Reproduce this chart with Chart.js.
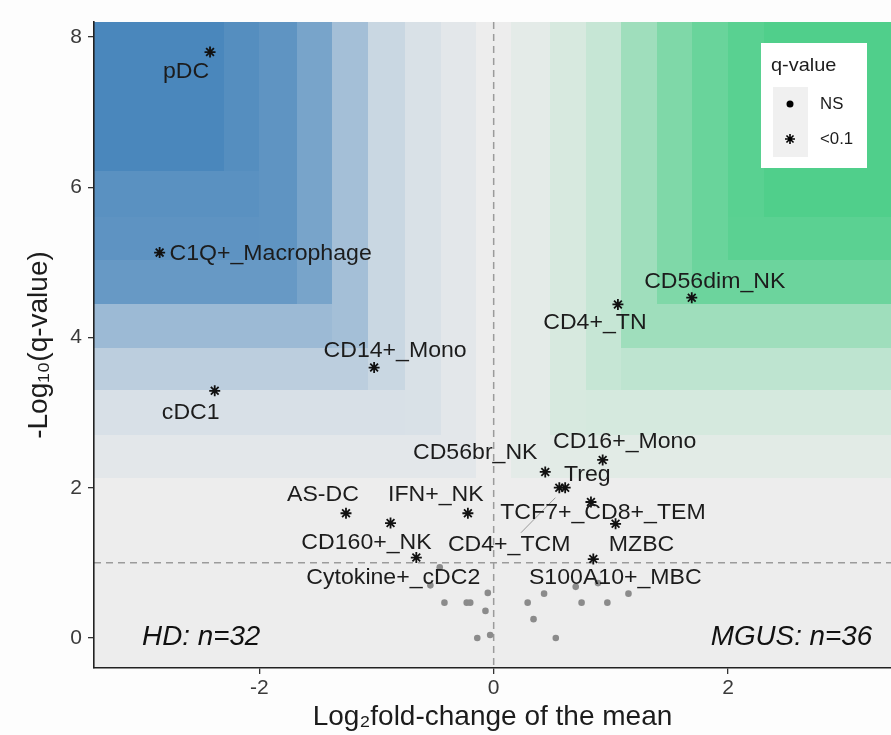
<!DOCTYPE html>
<html><head><meta charset="utf-8">
<script src="https://cdn.jsdelivr.net/npm/chart.js@4.4.1/dist/chart.umd.min.js"></script>
<style>html,body{margin:0;padding:0;background:#fdfdfd;}#wrap{width:891px;height:735px;}</style>
</head><body><div id="wrap"><canvas id="c" width="891" height="735"></canvas></div>
<script>
// ---- data ----
const sigNames = ['pDC','C1Q+_Macrophage','CD14+_Mono','cDC1','CD56dim_NK','CD4+_TN','CD16+_Mono','CD56br_NK','Treg','CD4+_TCM','TCF7+_CD8+_TEM','MZBC','S100A10+_MBC','IFN+_NK','AS-DC','CD160+_NK','Cytokine+_cDC2'];
const sigLog2FC = [-2.42,-2.85,-1.02,-2.38,1.69,1.06,0.93,0.44,0.56,0.61,0.83,1.04,0.85,-0.22,-1.26,-0.88,-0.66];
const sigNegLog10Q = [7.80,5.13,3.60,3.29,4.53,4.44,2.37,2.21,2.00,2.00,1.81,1.52,1.05,1.66,1.66,1.53,1.07];
const nsLog2FC = [-0.54,-0.46,-0.42,-0.23,-0.20,-0.07,-0.05,-0.14,-0.03,0.29,0.34,0.43,0.53,0.70,0.89,0.75,0.97,1.15];
const nsNegLog10Q = [0.70,0.94,0.47,0.47,0.47,0.36,0.60,0.00,0.04,0.47,0.25,0.59,0.00,0.68,0.73,0.47,0.47,0.59];
const xTickValues = [-2,0,2];
const yTickValues = [0,2,4,6,8];
const qThreshold = 1;      // -log10(0.1)
const groupLabels = ['HD: n=32','MGUS: n=36'];
const groupLabelX = [-3.0, 3.23];
const legendTitle = 'q-value';
const legendLabels = ['NS','<0.1'];
const xTitle = 'Log\u2082fold-change of the mean';
const yTitle = '-Log\u2081\u2080(q-value)';
// background tile bands
const bgBreaksY = [2.13,2.70,3.30,3.86,4.45,5.03,5.60,6.22];
const bgBreaksXNeg = [-0.15,-0.45,-0.76,-1.07,-1.38,-1.68,-2.00,-2.30];
const bgBreaksXPos = [0.15,0.48,0.79,1.09,1.39,1.69,2.00,2.31];
const blueWx = [0.01,0.06,0.12,0.22,0.45,0.72,0.87,0.93,1.0];
const blueWy = [0,0.06,0.13,0.30,0.50,0.82,0.88,0.90,1.0];
const greenWx = [0.01,0.055,0.14,0.25,0.50,0.70,0.84,0.94,1.0];
const greenWy = [0,0.07,0.15,0.30,0.50,0.82,0.93,1.0,1.0];

// ---- styles ----
const FONT = "'Liberation Sans', Arial, Helvetica, sans-serif";
const baseGrey = [237,237,237];
const blueDark = [74,135,188];
const greenDark = [80,207,139];
const labelOffsets = {
 'pDC':[-24,20],'C1Q+_Macrophage':[111,1],'CD14+_Mono':[21,-17],'cDC1':[-24,22],
 'CD56dim_NK':[23,-16],'CD4+_TN':[-23,19],'CD16+_Mono':[22,-18],'CD56br_NK':[-70,-19],
 'Treg':[28,-13],'CD4+_TCM':[-56,57],'TCF7+_CD8+_TEM':[12,11],'MZBC':[26,21],
 'S100A10+_MBC':[22,19],'IFN+_NK':[-32,-18],'AS-DC':[-23,-18],'CD160+_NK':[-24,20],'Cytokine+_cDC2':[-23,20]
};
const segmentLabels = ['CD4+_TCM'];

function mix(t, dark){
  return 'rgb(' + [0,1,2].map(i=>Math.round(baseGrey[i]+(dark[i]-baseGrey[i])*t)).join(',') + ')';
}
function stretchText(ctx, text, x, y, align, sx){
  ctx.save(); ctx.translate(x,y); ctx.scale(sx,1); ctx.textAlign=align; ctx.fillText(text,0,0); ctx.restore();
}

const bgPlugin = {
  id:'bg',
  beforeDraw(chart){
    const {ctx, chartArea:a, scales:{x,y}} = chart;
    ctx.save();
    ctx.beginPath(); ctx.rect(a.left,a.top,a.right-a.left,a.bottom-a.top); ctx.clip();
    ctx.fillStyle = mix(0,blueDark); ctx.fillRect(a.left,a.top,a.right-a.left,a.bottom-a.top);
    const yEdges = [a.bottom].concat(bgBreaksY.map(v=>Math.round(y.getPixelForValue(v)))).concat([a.top]);
    const negEdges = [Math.round(x.getPixelForValue(0))].concat(bgBreaksXNeg.map(v=>Math.round(x.getPixelForValue(v)))).concat([a.left]);
    const posEdges = [Math.round(x.getPixelForValue(0))].concat(bgBreaksXPos.map(v=>Math.round(x.getPixelForValue(v)))).concat([a.right]);
    for (let k=1;k<=8;k++){
      for (let j=1;j<=8;j++){
        const yb = yEdges[j], yt = yEdges[j+1];
        let t = Math.min(blueWx[k], blueWy[j]);
        ctx.fillStyle = mix(t, blueDark);
        ctx.fillRect(negEdges[k+1], yt, negEdges[k]-negEdges[k+1], yb-yt);
        t = Math.min(greenWx[k], greenWy[j]);
        ctx.fillStyle = mix(t, greenDark);
        ctx.fillRect(posEdges[k], yt, posEdges[k+1]-posEdges[k], yb-yt);
      }
    }
    ctx.strokeStyle = '#9b9b9b'; ctx.lineWidth = 1.5; ctx.setLineDash([7,5]);
    const x0 = x.getPixelForValue(0), y1 = y.getPixelForValue(qThreshold);
    ctx.beginPath(); ctx.moveTo(x0,a.top); ctx.lineTo(x0,a.bottom); ctx.stroke();
    ctx.beginPath(); ctx.moveTo(a.left,y1); ctx.lineTo(a.right,y1); ctx.stroke();
    ctx.restore();
  },
  afterDatasetsDraw(chart){
    const {ctx, chartArea:a, scales:{x,y}} = chart;
    ctx.save();
    ctx.font = '22px ' + FONT; ctx.fillStyle = '#1c1c1c'; ctx.textBaseline = 'middle';
    sigNames.forEach((n,i)=>{
      const px = x.getPixelForValue(sigLog2FC[i]), py = y.getPixelForValue(sigNegLog10Q[i]);
      const o = labelOffsets[n] || [0,-18];
      if (segmentLabels.includes(n)){
        const dx=o[0], dy=o[1], L=Math.hypot(dx,dy);
        const ux=dx/L, uy=dy/L;
        const sx=px+ux*14, sy=py+uy*14;
        const tEnd=(dy-12)/dy;
        ctx.save(); ctx.strokeStyle='#9a9a9a'; ctx.lineWidth=1;
        ctx.beginPath(); ctx.moveTo(sx,sy); ctx.lineTo(px+dx*tEnd, py+dy*tEnd); ctx.stroke(); ctx.restore();
      }
      stretchText(ctx, n, px+o[0], py+o[1], 'center', 1.05);
    });
    ctx.font = 'italic 27px ' + FONT; ctx.fillStyle = '#111';
    const gy = y.getPixelForValue(0);
    stretchText(ctx, groupLabels[0], x.getPixelForValue(groupLabelX[0]), gy, 'left', 1.03);
    stretchText(ctx, groupLabels[1], x.getPixelForValue(groupLabelX[1]), gy, 'right', 1.03);
    const lx=761, ly=43, lw=106, lh=125;
    ctx.fillStyle='#ffffff'; ctx.fillRect(lx,ly,lw,lh);
    ctx.fillStyle='#1c1c1c'; ctx.font='19px '+FONT;
    stretchText(ctx, legendTitle, lx+10, ly+23, 'left', 1.05);
    ctx.fillStyle='#f0f0f0'; ctx.fillRect(lx+12, ly+44, 35, 70);
    ctx.fillStyle='#000'; ctx.beginPath(); ctx.arc(lx+29, ly+61, 3.5, 0, Math.PI*2); ctx.fill();
    ctx.strokeStyle='#000'; ctx.lineWidth=1.6;
    const sx=lx+29, sy=ly+96, r=5;
    ctx.beginPath();
    ctx.moveTo(sx-r,sy); ctx.lineTo(sx+r,sy); ctx.moveTo(sx,sy-r); ctx.lineTo(sx,sy+r);
    const d=r*0.707; ctx.moveTo(sx-d,sy-d); ctx.lineTo(sx+d,sy+d); ctx.moveTo(sx-d,sy+d); ctx.lineTo(sx+d,sy-d);
    ctx.stroke();
    ctx.fillStyle='#1c1c1c'; ctx.font='16px '+FONT;
    stretchText(ctx, legendLabels[0], lx+59, ly+62, 'left', 1.05);
    stretchText(ctx, legendLabels[1], lx+59, ly+97, 'left', 1.05);
    ctx.restore();
  }
};

new Chart(document.getElementById('c'), {
  type:'scatter',
  data:{datasets:[
    {label:legendLabels[0], data:nsLog2FC.map((v,i)=>({x:v,y:nsNegLog10Q[i]})), pointStyle:'circle', pointRadius:3.3, pointBackgroundColor:'#8b8b8b', pointBorderWidth:0, borderWidth:0},
    {label:legendLabels[1], data:sigLog2FC.map((v,i)=>({x:v,y:sigNegLog10Q[i]})), pointStyle:'star', pointRadius:5.5, pointBorderColor:'#111', pointBackgroundColor:'#111', pointBorderWidth:1.8}
  ]},
  options:{
    responsive:false, animation:false, devicePixelRatio:1,
    layout:{autoPadding:false, padding:{top:22,right:0,left:0,bottom:0}},
    plugins:{legend:{display:false}, tooltip:{enabled:false}},
    scales:{
      x:{type:'linear', min:-3.41, max:3.39,
        afterBuildTicks:s=>{s.ticks = xTickValues.map(v=>({value:v}));},
        afterFit:s=>{s.height=67;},
        grid:{display:true, drawOnChartArea:false, drawTicks:true, tickLength:6, color:'#333', lineWidth:1.3},
        border:{display:true, color:'#222', width:1.6},
        ticks:{font:{size:21,family:FONT}, color:'#3a3a3a', padding:2, maxRotation:0, callback:v=>String(v)},
        title:{display:true, text:xTitle, font:{size:28,family:FONT}, color:'#1c1c1c', padding:{top:0,bottom:1}}
      },
      y:{type:'linear', min:-0.40, max:8.20,
        afterBuildTicks:s=>{s.ticks = yTickValues.map(v=>({value:v}));},
        afterFit:s=>{s.width=94;},
        grid:{display:true, drawOnChartArea:false, drawTicks:true, tickLength:6, color:'#333', lineWidth:1.3},
        border:{display:true, color:'#222', width:1.6},
        ticks:{font:{size:21,family:FONT}, color:'#3a3a3a', padding:6, callback:v=>String(v)},
        title:{display:true, text:yTitle, font:{size:28,family:FONT}, color:'#1c1c1c', padding:{top:22,bottom:0}}
      }
    }
  },
  plugins:[bgPlugin]
});
</script></body></html>
